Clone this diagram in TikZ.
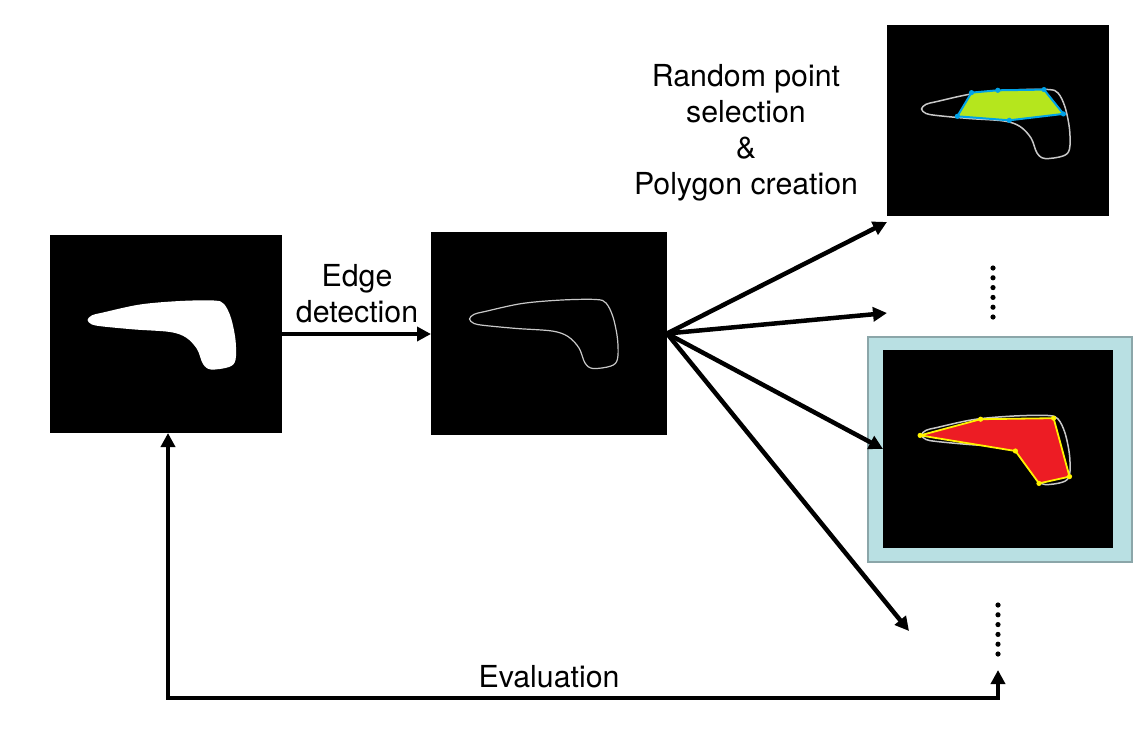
\documentclass[tikz,border=0pt]{standalone}
\usepackage{fontspec}
\setmainfont{TeX Gyre Heros}
\usetikzlibrary{arrows.meta}
\definecolor{limefill}{HTML}{B5E61D}
\definecolor{polyblue}{HTML}{00A2E8}
\definecolor{polyred}{HTML}{ED1C24}
\definecolor{polyyellow}{HTML}{FFF200}
\definecolor{framefill}{HTML}{B9E0E3}
\definecolor{framedraw}{HTML}{8BA6A9}
\definecolor{edgegray}{HTML}{C8C8C8}
\newcommand\blobcurve[1]{\path[#1] plot[smooth cycle, tension=0.55] coordinates {(87.5,320) (92,315.3) (103,312.5) (140,304.5) (180,301) (214,300.5) (224,304) (231,318) (235.5,340) (235.5,360) (229,367) (211,369.5) (203,364) (197,349) (186,337.5) (170,332) (135,329.5) (103,326.5) (92,324.5)};}
\begin{document}
\begin{tikzpicture}[x=1pt,y=-1pt,
  img/.style={fill=black, draw=none, inner sep=0pt, outer sep=0pt, anchor=north west},
  flow/.style={line width=4.5pt, -{Triangle[length=14pt,width=14pt]}},
  loopflow/.style={line width=4.5pt, {Triangle[length=14pt,width=14pt]}-{Triangle[length=14pt,width=14pt]}},
  lbl/.style={font=\fontsize{30.3}{36}\selectfont, align=center, inner sep=0pt},
  vdot/.style={fill=black},
  ]
\useasboundingbox (0,0) rectangle (1147,731);

% image boxes
\node[img, minimum width=232pt, minimum height=198pt] (b1) at (50,235) {};
\node[img, minimum width=236pt, minimum height=203pt] (b2) at (431,232) {};
\node[img, minimum width=222pt, minimum height=191pt] (b3) at (887,25) {};
\node[draw=framedraw, fill=framefill, line width=2pt, inner sep=0pt, anchor=north west,
      minimum width=264pt, minimum height=225pt] (f4) at (867,336) {};
\node[img, minimum width=230pt, minimum height=198pt] (b4) at (883,350) {};

% shapes inside images
\blobcurve{fill=white}
\begin{scope}[shift={(382,-1)}]
  \blobcurve{draw=edgegray, line width=1.2pt}
\end{scope}
\begin{scope}[shift={(834,-211)}]
  \blobcurve{draw=edgegray, line width=1.5pt}
\end{scope}
\begin{scope}[shift={(834,115)}]
  \blobcurve{draw=edgegray, line width=1.5pt}
\end{scope}

% green polygon
\filldraw[fill=limefill, draw=polyblue, line width=2pt, line join=round]
  (971.5,92.6) -- (997.8,90.3) -- (1044,89.6) -- (1063.4,113.9) -- (1009.3,120.3) -- (957.3,116.3) -- cycle;
\foreach \p in {(971.5,92.6),(997.8,90.3),(1044,89.6),(1063.4,113.9),(1009.3,120.3),(957.3,116.3)}
  \fill[polyblue] \p circle (2.6);

% red polygon
\filldraw[fill=polyred, draw=polyyellow, line width=1.8pt, line join=round]
  (920.1,435.4) -- (980.6,419.2) -- (1053.6,418.2) -- (1069.5,476.6) -- (1039,483.4) -- (1015.4,451) -- cycle;
\foreach \p in {(920.1,435.4),(980.6,419.2),(1053.6,418.2),(1069.5,476.6),(1039,483.4),(1015.4,451)}
  \fill[polyyellow] \p circle (2.6);

% labels
\node[lbl] (edge) at (357,294) {Edge\\detection};
\node[lbl] (rand) at (746,133) {Random point\\selection\\\&\\Polygon creation};
\node[lbl] (eval) at (549,677) {Evaluation};

% connectors
\draw[flow] (b1.east |- 0,334) -- (b2.west |- 0,334);
\coordinate (t1) at (887,222);
\coordinate (t2) at (887,313);
\coordinate (t3) at (883,449);
\coordinate (t4) at (909,631);
\foreach \t in {t1,t2,t3,t4}
  \draw[flow] (b2.east) -- (\t);

\coordinate (er) at (998,670);
\coordinate (el) at (168,698);
\draw[loopflow] (er) |- (el) -- (el |- b1.south);

% ellipsis dots
\foreach \i in {0,...,5} \fill[vdot] (993,268+9.8*\i) circle (2.6);
\foreach \i in {0,...,5} \fill[vdot] (998,605+9.8*\i) circle (2.6);
\end{tikzpicture}
\end{document}
